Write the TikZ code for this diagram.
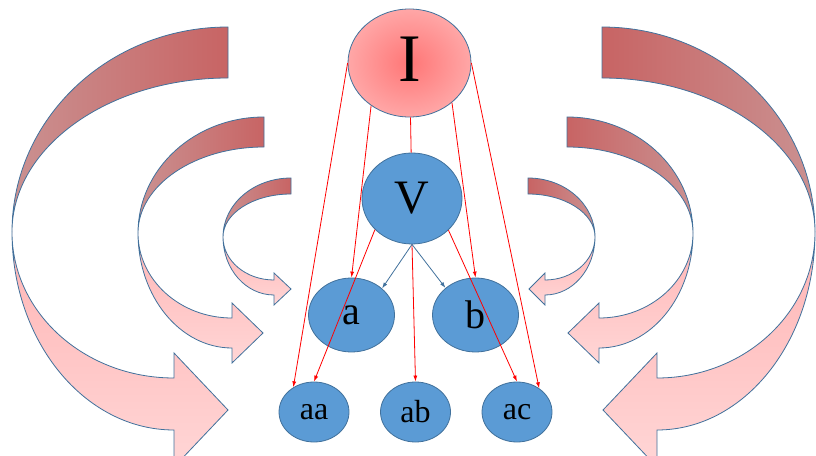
\documentclass[tikz,border=0pt]{standalone}
\usepackage{fontspec}
\setmainfont{Liberation Serif}
\usetikzlibrary{arrows.meta,shapes.geometric}
\definecolor{nodeblue}{RGB}{91,155,213}
\definecolor{edgeblue}{RGB}{65,113,156}
\definecolor{backdark}{RGB}{200,100,100}
\definecolor{backgrey}{RGB}{202,145,145}
\definecolor{fronttop}{RGB}{255,180,180}
\definecolor{frontbot}{RGB}{255,214,214}
\definecolor{icore}{RGB}{255,118,118}
\definecolor{irim}{RGB}{255,196,196}
\pgfdeclareradialshading{iglow}{\pgfpoint{0bp}{0bp}}{color(0bp)=(icore); color(40bp)=(irim); color(50bp)=(irim)}

\begin{document}
\begin{tikzpicture}[x=1pt, y=1pt,
      rootnode/.style={ellipse, draw=edgeblue, line width=0.8pt, shade, shading=iglow, inner sep=0pt, minimum width=123pt, minimum height=108pt, text depth=8pt, font=\fontsize{68}{68}\selectfont},
      vnode/.style={ellipse, draw=edgeblue, line width=0.8pt, fill=nodeblue, inner sep=0pt, minimum width=100pt, minimum height=91pt, font=\fontsize{48}{48}\selectfont},
      pairnode/.style={ellipse, draw=edgeblue, line width=0.8pt, fill=nodeblue, inner sep=0pt, minimum width=86pt, minimum height=74pt, font=\fontsize{40}{40}\selectfont},
      leafnode/.style={ellipse, draw=edgeblue, line width=0.8pt, fill=nodeblue, inner sep=0pt, minimum width=70pt, minimum height=60pt, font=\fontsize{32}{32}\selectfont},
      link/.style={-{Latex[length=6pt,width=4pt]}, red, line width=0.8pt},
      sublink/.style={-{Latex[length=6pt,width=4pt]}, edgeblue, line width=0.8pt},
      backL/.style={draw=edgeblue, line width=0.8pt, left color=backgrey, middle color=backdark!80!backgrey, right color=backdark},
      backR/.style={draw=edgeblue, line width=0.8pt, left color=backdark, middle color=backdark!80!backgrey, right color=backgrey},
      front/.style={draw=edgeblue, line width=0.8pt, top color=fronttop, bottom color=frontbot}
    ]
      \useasboundingbox (0,0) rectangle (816,455);
      \clip (0,0) rectangle (816,455);

      % curved arrows, left side
      \draw[backL] (228,428) arc[start angle=90, end angle=180, x radius=216, y radius=205]
        arc[start angle=180, end angle=90, x radius=216, y radius=154] -- cycle;
      \draw[front] (12,223) arc[start angle=180, end angle=270, x radius=162, y radius=198]
        -- (174,-12) -- (228,45) -- (174,102) -- (174,77)
        arc[start angle=270, end angle=180, x radius=162, y radius=146] -- cycle;
      \draw[backL] (264,338) arc[start angle=90, end angle=180, x radius=126, y radius=116]
        arc[start angle=180, end angle=90, x radius=126, y radius=86] -- cycle;
      \draw[front] (138,222) arc[start angle=180, end angle=270, x radius=94, y radius=115]
        -- (232,92) -- (263,122) -- (232,152) -- (232,137)
        arc[start angle=270, end angle=180, x radius=94, y radius=85] -- cycle;
      \draw[backL] (291,277) arc[start angle=90, end angle=180, x radius=68, y radius=59]
        arc[start angle=180, end angle=90, x radius=68, y radius=43] -- cycle;
      \draw[front] (223,218) arc[start angle=180, end angle=270, x radius=51, y radius=58]
        -- (274,150) -- (291,166) -- (274,182) -- (274,175)
        arc[start angle=270, end angle=180, x radius=51, y radius=43] -- cycle;

      % curved arrows, right side
      \draw[backR] (602,428) arc[start angle=90, end angle=0, x radius=213, y radius=205]
        arc[start angle=0, end angle=90, x radius=213, y radius=154] -- cycle;
      \draw[front] (815,223) arc[start angle=0, end angle=-90, x radius=158, y radius=198]
        -- (657,-12) -- (603,45) -- (657,102) -- (657,77)
        arc[start angle=-90, end angle=0, x radius=158, y radius=146] -- cycle;
      \draw[backR] (567,338) arc[start angle=90, end angle=0, x radius=126, y radius=116]
        arc[start angle=0, end angle=90, x radius=126, y radius=86] -- cycle;
      \draw[front] (693,222) arc[start angle=0, end angle=-90, x radius=94, y radius=115]
        -- (599,92) -- (568,122) -- (599,152) -- (599,137)
        arc[start angle=-90, end angle=0, x radius=94, y radius=85] -- cycle;
      \draw[backR] (528,277) arc[start angle=90, end angle=0, x radius=67, y radius=59]
        arc[start angle=0, end angle=90, x radius=67, y radius=43] -- cycle;
      \draw[front] (595,218) arc[start angle=0, end angle=-90, x radius=50, y radius=58]
        -- (545,150) -- (529,166) -- (545,182) -- (545,175)
        arc[start angle=-90, end angle=0, x radius=50, y radius=43] -- cycle;

      % tree
      \node[rootnode] (I) at (409.5,392) {I};
      \node[vnode] (V) at (412,256.5) {V};
      \node[pairnode] (a) at (351.5,140) {a};
      \node[pairnode] (b) at (475.5,140) {b};
      \node[leafnode] (aa) at (314,43) {aa};
      \node[leafnode] (ab) at (415.5,43) {ab};
      \node[leafnode] (ac) at (517,43) {ac};

      \draw[red, line width=0.8pt] (I) -- (V);
      \draw[link] (I.180) -- (aa.130);
      \draw[link] (I.228) -- (a.north);
      \draw[link] (I.317) -- (b.north);
      \draw[link] (I.0) -- (ac.47);
      \draw[link] (V.220) -- (aa.north);
      \draw[link] (V.south) -- (ab.north);
      \draw[link] (V.319) -- (ac.north);
      \draw[sublink] (V.south) -- (a.41);
      \draw[sublink] (V.south) -- (b.138);
    \end{tikzpicture}
\end{document}
